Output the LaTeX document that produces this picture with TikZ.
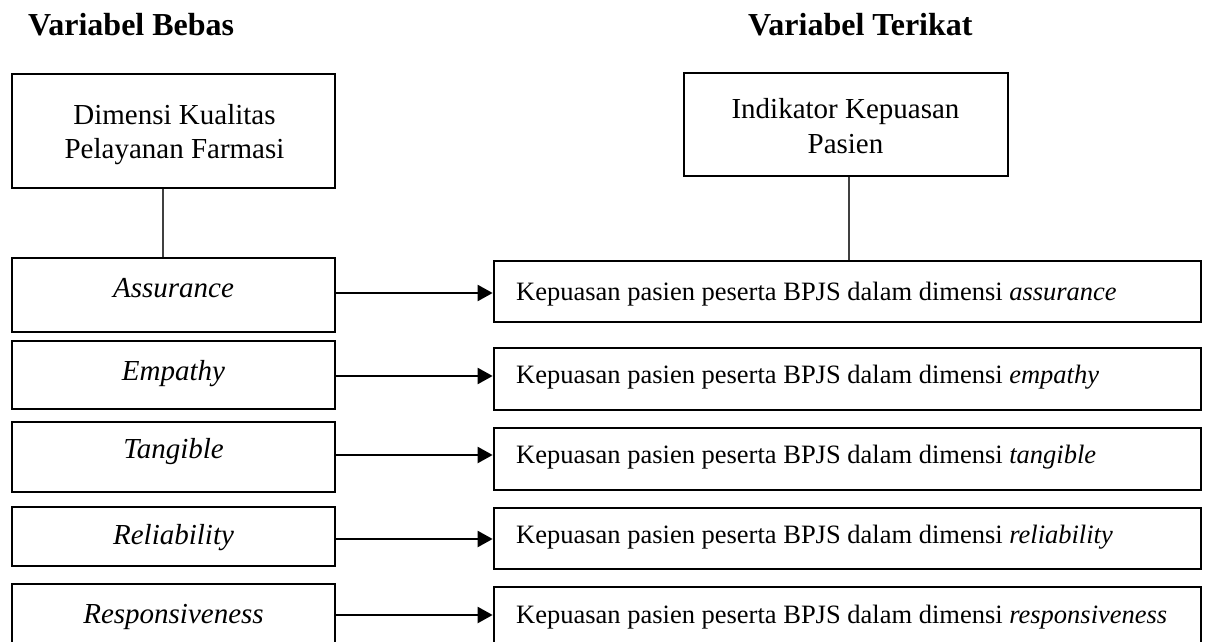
\documentclass[tikz,border=0pt]{standalone}
\usepackage{fontspec}
\setmainfont{Liberation Serif}
\usetikzlibrary{arrows.meta}
\begin{document}
\begin{tikzpicture}[x=1pt,y=-1pt,
  box/.style={draw=black,line width=2.7pt,rectangle,inner sep=0pt,fill=white},
  lbox/.style={box,minimum width=323pt},
  rbox/.style={box,minimum width=707pt},
  link/.style={draw=black!75,line width=1.5pt},
  arr/.style={draw=black,line width=2.2pt,-{Triangle[length=15pt,width=16pt]}},
  ltxt/.style={anchor=base,inner sep=0pt,font=\fontsize{29}{34}\selectfont},
  rtxt/.style={anchor=base west,inner sep=0pt,font=\fontsize{26.5}{31}\selectfont},
  ttl/.style={anchor=base west,inner sep=0pt,font=\fontsize{32}{36}\selectfont\bfseries}]
\useasboundingbox (0,0) rectangle (1210,642);
\clip (0,0) rectangle (1210,642);
% titles
\node[ttl] (t1) at (28,36) {Variabel Bebas};
\node[ttl] (t2) at (748,36) {Variabel Terikat};
% top boxes
\node[box,minimum width=323pt,minimum height=114pt] (dim) at (173.5,131) {};
\node[ltxt] (dimt1) at (174.5,124) {Dimensi Kualitas};
\node[ltxt] (dimt2) at (174.5,158) {Pelayanan Farmasi};
\node[box,minimum width=324pt,minimum height=103pt] (ind) at (846,124.5) {};
\node[ltxt] (indt1) at (845.5,118) {Indikator Kepuasan};
\node[ltxt] (indt2) at (845.5,153) {Pasien};
% left boxes
\node[lbox,minimum height=74pt] (la) at (173.5,295) {};
\node[lbox,minimum height=68pt] (le) at (173.5,375) {};
\node[lbox,minimum height=70pt] (lt) at (173.5,457) {};
\node[lbox,minimum height=59pt] (lr) at (173.5,536.5) {};
\node[lbox,minimum height=76pt] (lrs) at (173.5,622) {};
\node[ltxt] (lat) at (173.5,297) {\itshape Assurance};
\node[ltxt] (let) at (173.5,380) {\itshape Empathy};
\node[ltxt] (ltt) at (173.5,458) {\itshape Tangible};
\node[ltxt] (lrt) at (173.5,544) {\itshape Reliability};
\node[ltxt] (lrst) at (173.5,623) {\itshape Responsiveness};
% right boxes
\node[rbox,minimum height=61pt] (ra) at (847.5,291.5) {};
\node[rbox,minimum height=62pt] (re) at (847.5,379) {};
\node[rbox,minimum height=62pt] (rt) at (847.5,459) {};
\node[rbox,minimum height=61pt] (rr) at (847.5,538.5) {};
\node[rbox,minimum height=73pt] (rrs) at (847.5,623.5) {};
\node[rtxt] (rat) at (516,300) {Kepuasan pasien peserta BPJS dalam dimensi \textit{assurance}};
\node[rtxt] (ret) at (516,383) {Kepuasan pasien peserta BPJS dalam dimensi \textit{empathy}};
\node[rtxt] (rtt) at (516,463) {Kepuasan pasien peserta BPJS dalam dimensi \textit{tangible}};
\node[rtxt] (rrt) at (516,543) {Kepuasan pasien peserta BPJS dalam dimensi \textit{reliability}};
\node[rtxt] (rrst) at (516,623) {Kepuasan pasien peserta BPJS dalam dimensi \textit{responsiveness}};
% vertical links
\coordinate (xl) at (163,0);
\coordinate (xr) at (849,0);
\draw[link] (dim.south -| xl) -- (la.north -| xl);
\draw[link] (ind.south -| xr) -- (ra.north -| xr);
% arrows
\coordinate (y1) at (0,293);
\coordinate (y2) at (0,376);
\coordinate (y3) at (0,455);
\coordinate (y4) at (0,539);
\coordinate (y5) at (0,615);
\draw[arr] (la.east |- y1) -- (ra.west |- y1);
\draw[arr] (le.east |- y2) -- (re.west |- y2);
\draw[arr] (lt.east |- y3) -- (rt.west |- y3);
\draw[arr] (lr.east |- y4) -- (rr.west |- y4);
\draw[arr] (lrs.east |- y5) -- (rrs.west |- y5);
\end{tikzpicture}
\end{document}
